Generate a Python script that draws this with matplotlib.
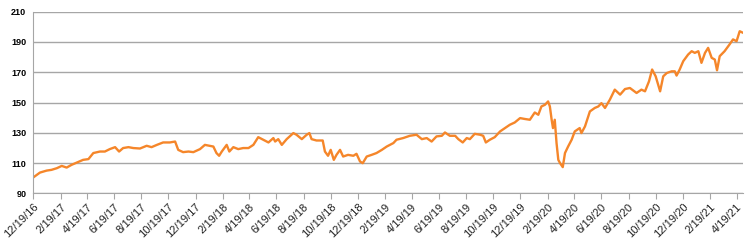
import pandas as pd
import matplotlib
matplotlib.use("Agg")
import matplotlib.pyplot as plt

# Valores (indice, base 100 el 19/12/2016)
fechas = [
    "2016-12-19", "2017-01-03", "2017-01-18", "2017-01-29", "2017-02-10", "2017-02-21",
    "2017-03-04", "2017-03-15", "2017-03-27", "2017-04-10", "2017-04-22", "2017-05-03",
    "2017-05-18", "2017-05-29", "2017-06-09", "2017-06-21", "2017-06-30", "2017-07-09",
    "2017-07-21", "2017-08-01", "2017-08-16", "2017-08-31", "2017-09-11", "2017-09-23",
    "2017-10-07", "2017-10-22", "2017-11-03", "2017-11-10", "2017-11-21", "2017-12-03",
    "2017-12-14", "2017-12-29", "2018-01-09", "2018-01-20", "2018-01-28", "2018-02-04",
    "2018-02-10", "2018-02-16", "2018-02-27", "2018-03-05", "2018-03-14", "2018-03-25",
    "2018-04-05", "2018-04-17", "2018-04-28", "2018-05-09", "2018-05-20", "2018-06-01",
    "2018-06-12", "2018-06-16", "2018-06-23", "2018-07-01", "2018-07-12", "2018-07-27",
    "2018-08-03", "2018-08-15", "2018-08-26", "2018-09-01", "2018-09-06", "2018-09-17",
    "2018-10-01", "2018-10-06", "2018-10-13", "2018-10-19", "2018-10-26", "2018-11-01",
    "2018-11-09", "2018-11-16", "2018-11-27", "2018-12-09", "2018-12-16", "2018-12-24",
    "2018-12-30", "2019-01-08", "2019-01-19", "2019-01-30", "2019-02-11", "2019-02-22",
    "2019-03-01", "2019-03-09", "2019-03-16", "2019-03-31", "2019-04-15", "2019-04-30",
    "2019-05-12", "2019-05-23", "2019-06-03", "2019-06-14", "2019-06-26", "2019-07-03",
    "2019-07-14", "2019-07-26", "2019-08-02", "2019-08-12", "2019-08-21", "2019-08-28",
    "2019-09-08", "2019-09-20", "2019-09-27", "2019-10-03", "2019-10-12", "2019-10-23",
    "2019-11-04", "2019-11-15", "2019-11-26", "2019-12-07", "2019-12-19", "2019-12-30",
    "2020-01-10", "2020-01-21", "2020-01-29", "2020-02-05", "2020-02-13", "2020-02-20",
    "2020-02-24", "2020-02-28", "2020-03-02", "2020-03-06", "2020-03-10", "2020-03-14",
    "2020-03-18", "2020-03-24", "2020-03-29", "2020-04-05", "2020-04-13", "2020-04-20",
    "2020-05-01", "2020-05-05", "2020-05-13", "2020-05-24", "2020-06-04", "2020-06-12",
    "2020-06-19", "2020-06-27", "2020-07-08", "2020-07-19", "2020-07-31", "2020-08-11",
    "2020-08-22", "2020-09-06", "2020-09-17", "2020-09-25", "2020-10-04", "2020-10-11",
    "2020-10-19", "2020-10-29", "2020-11-05", "2020-11-13", "2020-11-24", "2020-12-01",
    "2020-12-05", "2020-12-12", "2020-12-20", "2020-12-31", "2021-01-08", "2021-01-15",
    "2021-01-23", "2021-01-30", "2021-02-07", "2021-02-14", "2021-02-22", "2021-03-01",
    "2021-03-06", "2021-03-12", "2021-03-23", "2021-04-03", "2021-04-11", "2021-04-19",
    "2021-04-26", "2021-05-04",
]
valores = [
    100.5, 103.7, 105.0, 105.5, 106.6, 108.1,
    107.0, 108.8, 110.3, 112.1, 112.6, 116.6,
    117.6, 117.6, 119.2, 120.5, 117.6, 119.9,
    120.5, 119.9, 119.6, 121.4, 120.5, 122.0,
    123.6, 123.6, 124.2, 118.7, 117.2, 117.6,
    117.2, 119.2, 122.0, 121.4, 120.9, 116.6,
    114.8, 117.6, 122.0, 117.6, 120.5, 119.2,
    119.9, 119.9, 122.0, 127.1, 125.4, 123.6,
    126.5, 124.2, 125.8, 122.0, 125.8, 129.8,
    128.7, 125.8, 128.7, 129.8, 125.8, 124.9,
    124.9, 117.6, 114.8, 118.7, 112.1, 115.4,
    118.7, 114.3, 115.4, 114.8, 116.1, 111.0,
    109.9, 114.3, 115.4, 116.6, 118.7, 120.9,
    122.0, 123.2, 125.4, 126.5, 128.0, 128.7,
    125.8, 126.5, 124.2, 127.6, 128.0, 130.2,
    128.0, 128.0, 125.8, 123.6, 126.5, 125.8,
    129.3, 128.7, 128.0, 123.6, 125.4, 127.1,
    130.9, 133.1, 135.3, 136.8, 139.7, 139.1,
    138.6, 143.4, 141.9, 147.4, 148.5, 150.7,
    147.4, 138.6, 133.1, 138.6, 123.2, 112.1,
    109.9, 107.3, 116.6, 120.9, 125.4, 130.9,
    133.1, 129.8, 134.2, 144.1, 146.4, 147.4,
    149.6, 146.4, 151.9, 158.5, 155.2, 158.9,
    159.6, 156.3, 158.5, 157.4, 164.0, 171.8,
    167.3, 157.4, 167.3, 169.5, 170.6, 170.6,
    167.8, 171.8, 177.3, 181.7, 183.9, 182.8,
    183.9, 176.2, 182.8, 186.1, 179.5, 178.4,
    171.3, 180.6, 183.9, 188.3, 191.7, 190.5,
    197.1, 196.0,
]

fechas = pd.to_datetime(fechas)

fig = plt.figure(figsize=(7.5, 2.47), dpi=100)
ax = fig.add_axes([0.0444, 0.2174, 0.9466, 0.7352])

ax.plot(fechas, valores, color='#F5862A', linewidth=1.7)

ax.set_xlim(fechas[0], fechas[-1])
ax.set_ylim(90, 210)
ax.set_yticks(range(90, 211, 20))
ax.grid(axis='y', color='#A6A6A6', linewidth=1.0)
ax.set_axisbelow(True)

# etiquetas cada dos meses
ticks = pd.date_range("2016-12-19", "2021-04-19", freq=pd.DateOffset(months=2))
ax.set_xticks(ticks)
ax.set_xticklabels([f"{d.month}/{d.day}/{d.strftime('%y')}" for d in ticks],
                   rotation=45, ha='right', rotation_mode='anchor',
                   fontsize=8, family='Liberation Sans', color='#222222')
for lbl in ax.get_yticklabels():
    lbl.set_fontsize(6.5)
    lbl.set_fontweight('bold')
    lbl.set_family('Liberation Sans')

ax.tick_params(axis='y', length=0, pad=5)
ax.tick_params(axis='x', length=4, color='#A6A6A6', pad=2)
for s in ['top', 'right']:
    ax.spines[s].set_visible(False)
ax.spines['left'].set_color('#A6A6A6')
ax.spines['bottom'].set_color('#A6A6A6')

plt.savefig('out.png', dpi=100)
